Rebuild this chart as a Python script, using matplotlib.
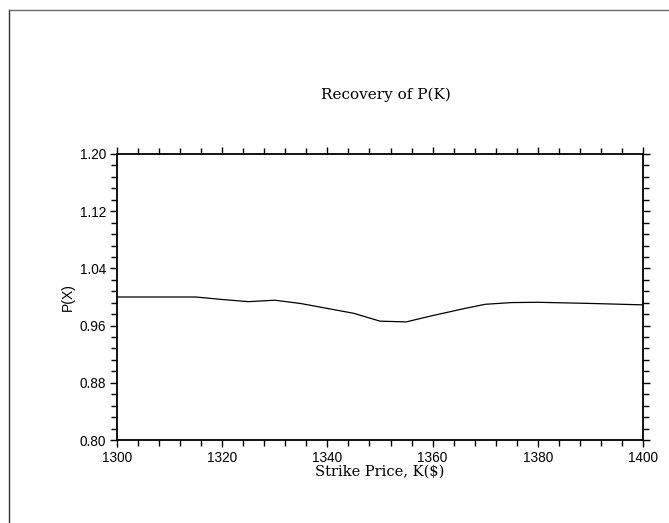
import matplotlib
matplotlib.use("Agg")
import matplotlib.pyplot as plt
from matplotlib.ticker import MultipleLocator, FormatStrFormatter
from matplotlib.lines import Line2D

strike = [1300, 1315, 1320, 1325, 1330, 1335, 1340, 1345, 1350, 1355, 1360, 1366, 1370, 1375, 1380, 1390, 1400]
prob = [1.000, 1.000, 0.9965, 0.9935, 0.9955, 0.9908, 0.9840, 0.9772, 0.9662, 0.9652, 0.9740, 0.9838, 0.9898, 0.9922, 0.9926, 0.9910, 0.9890]

title = "Recovery of P(K)"
xlabel = "Strike Price, K($)"
ylabel = "P(X)"

W, H = 669, 523
fig = plt.figure(figsize=(W / 100, H / 100), dpi=100)
fig.patch.set_facecolor("white")

# page border (left and top)
fig.add_artist(Line2D([9 / W, 9 / W], [0, 1 - 10 / H], transform=fig.transFigure, color="#333333", lw=1.0))
fig.add_artist(Line2D([9 / W, 1], [1 - 10 / H, 1 - 10 / H], transform=fig.transFigure, color="#666666", lw=1.0))

left, right, top, bottom = 117, 643, 154, 440
ax = fig.add_axes([left / W, 1 - bottom / H, (right - left) / W, (bottom - top) / H])
ax.plot(strike, prob, color="black", lw=0.9)
ax.set_xlim(1300, 1400)
ax.set_ylim(0.80, 1.20)
ax.xaxis.set_major_locator(MultipleLocator(20))
ax.xaxis.set_minor_locator(MultipleLocator(4))
ax.yaxis.set_major_locator(MultipleLocator(0.08))
ax.yaxis.set_minor_locator(MultipleLocator(0.016))
ax.yaxis.set_major_formatter(FormatStrFormatter("%.2f"))
for s in ax.spines.values():
    s.set_linewidth(1.3)
ax.tick_params(which="both", direction="out", top=True, right=True, labeltop=False, labelright=False,
               width=1.0, color="black")
ax.tick_params(which="major", length=5, pad=3, labelsize=9.8)
ax.tick_params(which="minor", length=4)
for lab in ax.get_xticklabels() + ax.get_yticklabels():
    lab.set_family("Liberation Sans")

ax.set_xlabel(xlabel, family="DejaVu Serif", fontsize=10.5, labelpad=0)
ax.set_ylabel(ylabel, family="Liberation Sans", fontsize=10, labelpad=3)
fig.text(386 / W, 1 - 95 / H, title, family="DejaVu Serif", fontsize=11, ha="center", va="center")

fig.savefig("out.png", dpi=100)
